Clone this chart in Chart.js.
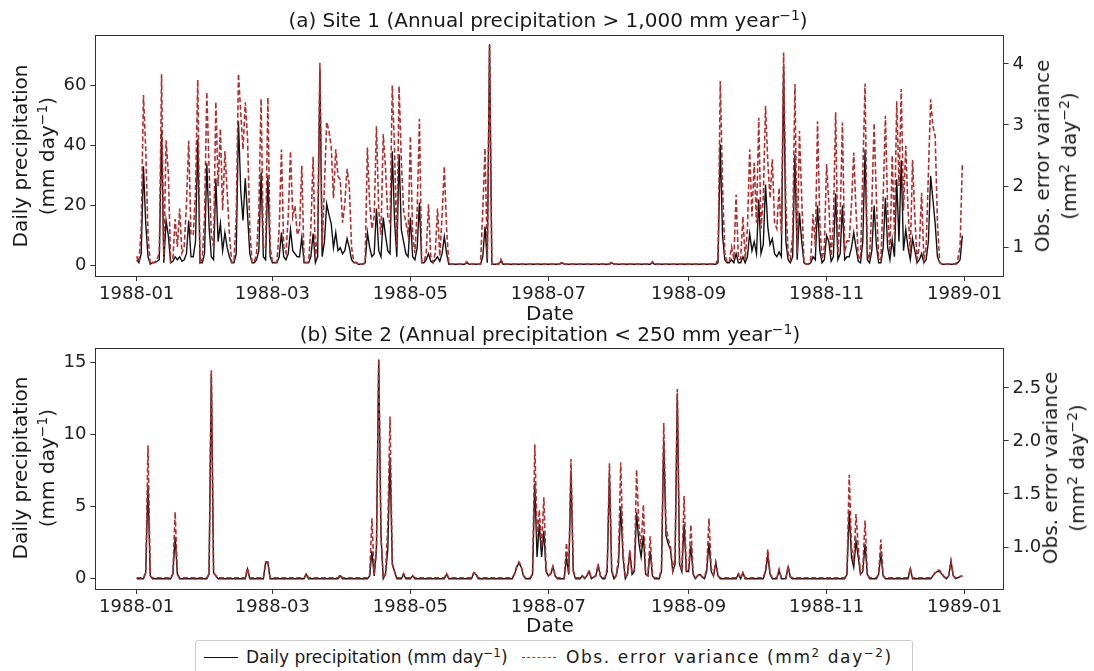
<!DOCTYPE html>
<html><head><meta charset="utf-8">
<script src="https://cdn.jsdelivr.net/npm/chart.js@4.4.0/dist/chart.umd.min.js"></script>
<style>
body{margin:0;background:#fff;width:1094px;height:671px;overflow:hidden;position:relative;font-family:"DejaVu Sans",sans-serif;color:#1a1a1a}
canvas{position:absolute;left:0}
.t{position:absolute;white-space:nowrap;transform:translate(-50%,-50%);font-size:20px;line-height:27px;text-align:center}
.r{transform:translate(-50%,-50%) rotate(-90deg)}
sup{font-size:0.7em;line-height:0;vertical-align:0.5em}
#leg{position:absolute;left:195px;top:640px;width:716px;height:40px;border:1px solid #ccc;border-radius:3px;font-size:17px}
.li{position:absolute;top:6px;white-space:nowrap}
.ln{position:absolute;top:16px;width:34px;height:0}
</style></head>
<body>
<canvas id="ca" width="1094" height="330" style="top:0"></canvas>
<canvas id="cb" width="1094" height="300" style="top:330px"></canvas>

<div class="t" style="left:548px;top:20px">(a) Site 1 (Annual precipitation &gt; 1,000 mm year<sup>−1</sup>)</div>
<div class="t" style="left:550px;top:313px">Date</div>
<div class="t" style="left:550px;top:334px">(b) Site 2 (Annual precipitation &lt; 250 mm year<sup>−1</sup>)</div>
<div class="t" style="left:550px;top:625px">Date</div>

<div class="t r" style="left:34px;top:156px">Daily precipitation<br>(mm day<sup>−1</sup>)</div>
<div class="t r" style="left:1056px;top:156px">Obs. error variance<br>(mm<sup>2</sup> day<sup>−2</sup>)</div>
<div class="t r" style="left:34px;top:468px">Daily precipitation<br>(mm day<sup>−1</sup>)</div>
<div class="t r" style="left:1064px;top:468px">Obs. error variance<br>(mm<sup>2</sup> day<sup>−2</sup>)</div>

<div id="leg">
  <div class="ln" style="left:8px;border-top:1.5px solid #111"></div>
  <div class="li" style="left:50px">Daily precipitation (mm day<sup>−1</sup>)</div>
  <div class="ln" style="left:326px;border-top:1.6px dashed #b03030"></div>
  <div class="li" style="left:370px;letter-spacing:1.6px">Obs. error variance (mm<sup>2</sup> day<sup>−2</sup>)</div>
</div>

<script>
// ---- x axis (day of year 1988) ----
const tickDays = [0, 60, 121, 182, 244, 305, 366];
const tickLabels = ['1988-01', '1988-03', '1988-05', '1988-07', '1988-09', '1988-11', '1989-01'];

// ---- (a) Site 1 ----
const daysA = [0,1,2,3,4,5,6,7,8,9,10,11,12,13,14,15,16,17,18,19,20,21,22,23,24,25,26,27,28,29,30,31,32,33,34,35,36,37,38,39,40,41,42,43,44,45,46,47,48,49,50,51,52,53,54,55,56,57,58,59,60,61,62,63,64,65,66,67,68,69,70,71,72,73,74,75,76,77,78,79,80,81,82,83,84,85,86,87,88,89,90,91,92,93,94,95,96,97,98,99,100,101,102,103,104,105,106,107,108,109,110,111,112,113,114,115,116,117,118,119,120,121,122,123,124,125,126,127,128,129,130,131,132,133,134,135,136,137,138,145,146,147,152,153,154,155,156,157,160,161,162,187,188,189,209,210,211,227,228,229,256,257,258,259,260,261,262,263,264,265,266,267,268,269,270,271,272,273,274,275,276,277,278,279,280,281,282,283,284,285,286,287,288,289,290,291,292,293,294,295,296,297,298,299,300,301,302,303,304,305,306,307,308,309,310,311,312,313,314,315,316,317,318,319,320,321,322,323,324,325,326,327,328,329,330,331,332,333,334,335,336,337,338,339,340,341,342,343,344,345,346,347,348,349,350,351,352,353,354,355,356,362,363,364,365];
const precipA = [2,1,4,33,14,3,0.5,1,1,1.5,2,45,1,15,10,1,1.5,3,2,3,1.5,2,4,15,3,3,8,42,1,1,4,34,13,3,2,29,8,14,5,11,6,3,1,1,4,48,25,15,29,17,4,1,1,2,5,31,3,2,30,3,1,1,1,3,11,3,2,4,12,5,4,3,3,9.4,1,1,1,3,10.7,1,3,65,3,8,20.5,17,14,6,11,5,6,4,5,9,6,2,1,1,0.5,0.5,0.5,1,11,6,3,4,19,5,3,16,10,5,4,38,15,3,37,12,8,4,3,16,3,2,6,21,1,1,2,4,1.5,1,2,3,1.5,4,9.7,4,0.5,0.5,1,0.5,0.5,3,13,1,73.5,0.5,0.5,1.5,0.5,0.5,1,0.5,0.5,1,0.5,0.5,1,0.5,0.5,1,40.3,10,2,1,1,2,1,4,1,1,3,1,3,10.7,5,8,4,22,4,7,27,13,7,9,4,3,4.6,3,66,8,2,1,3,37,2,17.6,8,1,0.5,0.5,1,3,2,20,5,1,2,10,8,1.5,3,24,2,4,20,2,3,3,6,11,6,1.5,1,8,38.6,2,1,5,20,7,1,1,6,22.6,6,2,8.7,3,28.7,8,35,5,12,6,2,9,5,1,2,4,1,2,8,29.8,22,14,3,1,0.5,0.5,1,2,10];
const varianceA = [0.85,0.75,1.3,3.49,2.6,1.2,0.72,0.75,0.75,0.8,0.9,3.83,0.8,2.75,2.2,0.75,0.8,1.46,1.0,1.63,0.9,1.0,1.7,2.74,1.2,1.2,1.9,3.74,0.75,0.8,1.5,3.54,2.3,1.2,1.0,3.38,2.0,2.94,1.6,2.57,1.9,1.2,0.75,0.75,1.5,3.84,3.2,2.6,3.37,2.8,1.3,0.75,0.75,0.9,1.6,3.43,1.0,1.0,3.45,1.0,0.75,0.75,0.75,1.3,2.6,1.0,0.9,1.5,2.57,1.5,1.67,1.2,1.3,2.33,0.75,0.75,0.75,1.3,2.48,0.8,1.2,4.02,1.0,2.0,3.05,2.9,2.65,1.8,2.6,2.16,2.1,1.4,1.7,2.28,2.0,1.0,0.75,0.75,0.72,0.72,0.72,0.75,2.63,1.7,1.3,1.5,2.98,1.6,1.2,2.85,2.3,1.5,1.4,3.65,2.6,1.0,3.64,2.4,1.6,1.4,1.2,2.82,1.2,0.9,1.6,3.1,0.75,0.75,0.9,1.7,0.85,0.75,0.9,1.63,0.85,1.5,2.32,1.3,0.72,0.72,0.76,0.72,0.72,1.6,2.62,0.8,4.31,0.72,0.72,0.8,0.72,0.72,0.76,0.72,0.72,0.76,0.72,0.72,0.76,0.72,0.72,0.8,3.72,2.0,0.9,0.75,0.75,1.0,0.8,1.86,0.8,0.8,1.5,0.8,1.3,2.6,1.5,2.38,1.4,3.12,1.3,1.8,3.31,2.4,1.8,2.44,1.4,1.3,1.97,1.2,4.19,1.7,0.9,0.8,1.2,3.67,0.9,2.9,1.8,0.75,0.72,0.72,0.8,1.54,1.0,3.06,1.4,0.8,1.0,2.36,1.7,0.85,1.4,3.21,0.9,1.5,3.04,0.9,1.1,1.1,1.7,2.55,1.6,0.85,0.8,2.2,3.68,0.9,0.8,1.7,3.03,1.8,0.8,0.8,1.8,3.15,1.6,0.9,2.5,1.2,3.39,2.0,3.59,1.6,2.66,1.6,0.9,2.43,1.5,0.8,1.0,1.89,0.8,1.0,2.2,3.42,2.98,2.82,1.4,0.75,0.72,0.72,0.8,1.0,2.36];

// ---- (b) Site 2 ----
const daysB = [0,3,4,5,6,7,15,16,17,18,19,31,32,33,34,35,36,48,49,50,56,57,58,59,74,75,76,89,90,91,102,103,104,105,106,107,108,109,110,111,112,113,114,115,117,118,119,121,122,123,136,137,138,148,149,150,151,166,167,168,169,170,171,172,174,175,176,177,178,179,180,181,182,183,184,185,186,189,190,191,192,193,194,196,197,198,199,200,201,203,204,205,206,207,208,209,210,211,212,213,214,215,216,217,218,219,220,221,222,223,224,225,226,227,228,229,231,232,233,234,235,236,237,238,239,240,241,242,243,244,245,246,247,248,249,250,251,252,253,254,255,256,257,258,265,266,267,268,269,277,278,279,280,281,283,284,285,287,288,289,290,313,314,315,316,317,318,319,320,321,322,323,324,327,328,329,330,331,341,342,343,351,352,353,354,355,356,357,358,359,360,361,362,365];
const precipB = [0,0,0.4,6.5,0.2,0,0,0.3,2.9,0.3,0,0,0.3,14.2,0.4,0.2,0,0,0.67,0,0,1.1,1.1,0,0,0.3,0,0,0.2,0,0,0.2,1.9,0.2,2,15.2,3,0,0.3,2,8.4,1,0.5,0,0,0.3,0,0,0.2,0,0,0.3,0,0,0.4,0.3,0,0,0.3,0.8,1.1,0.8,0.2,0,0,0.3,6.6,1.5,3.8,1.5,3.3,0.5,0.2,0.3,0.8,0.2,0,0,1.5,0.3,7.5,0.5,0,0,0.2,0,0.2,0.5,0,0.2,0.9,0.2,0,0,0.5,7.3,0.5,0,0.2,1,5,1.5,0,0.3,1.9,0.3,0.5,4.6,2.5,1.5,3,0.3,0.2,1.9,0.2,0,0,0.5,9.6,3,2.4,2,0.5,1,12.8,1,0.5,3.8,0.5,0.5,2.3,0.3,0,0.2,0.3,0.1,0,0.5,2.5,0.5,0.2,1.1,0.2,0,0,0.3,0,0.4,0,0,0.5,1.6,0.3,0,0,0.6,0,0,0.8,0.1,0,0,0.3,4.7,1.5,0.8,2.6,1.5,0.3,0.5,2.4,0.3,0,0,0.3,1.7,0.2,0,0,0.7,0,0,0.2,0.4,0.5,0.5,0.3,0.1,0,0.2,1.2,0.2,0,0.2];
const varianceB = [0.71,0.71,0.76,1.96,0.73,0.71,0.71,0.75,1.33,0.75,0.71,0.71,0.75,2.67,0.76,0.73,0.71,0.71,0.8,0.71,0.71,0.86,0.86,0.71,0.71,0.75,0.71,0.71,0.74,0.71,0.71,0.74,1.27,0.74,1.0,2.77,1.1,0.71,0.75,1.2,2.23,0.85,0.77,0.71,0.71,0.75,0.71,0.71,0.73,0.71,0.71,0.75,0.71,0.71,0.76,0.75,0.71,0.71,0.75,0.82,0.86,0.82,0.73,0.71,0.71,0.75,1.97,1.1,1.35,1.0,1.47,0.78,0.73,0.75,0.82,0.73,0.71,0.71,1.04,0.75,1.83,0.78,0.71,0.71,0.73,0.71,0.73,0.78,0.71,0.73,0.84,0.73,0.71,0.71,0.8,1.79,0.78,0.71,0.73,0.9,1.8,0.95,0.71,0.75,0.97,0.75,0.78,1.73,1.2,1.0,1.4,0.75,0.73,1.1,0.73,0.71,0.71,0.8,2.17,1.2,1.07,1.0,0.78,0.9,2.49,0.85,0.78,1.48,0.78,0.78,1.21,0.75,0.71,0.73,0.75,0.72,0.71,0.8,1.27,0.8,0.73,0.86,0.73,0.71,0.71,0.75,0.71,0.76,0.71,0.71,0.78,0.98,0.75,0.71,0.71,0.79,0.71,0.71,0.82,0.72,0.71,0.71,0.75,1.68,1.0,0.85,1.31,1.0,0.75,0.8,1.25,0.75,0.71,0.71,0.75,1.07,0.73,0.71,0.71,0.8,0.71,0.71,0.73,0.76,0.78,0.78,0.75,0.72,0.71,0.73,0.87,0.73,0.71,0.73];

// ---- axis ticks ----
const precipTicksA = [0, 20, 40, 60];
const varianceTicksA = [1, 2, 3, 4];
const precipTicksB = [0, 5, 10, 15];
const varianceTicksB = [1.0, 1.5, 2.0, 2.5];

const AX = '#333';
const tickFont = {family: 'DejaVu Sans', size: 18};

const boxPlugin = {
  id: 'box',
  afterDraw(chart) {
    const a = chart.chartArea, c = chart.ctx;
    c.save(); c.strokeStyle = AX; c.lineWidth = 1;
    c.strokeRect(Math.round(a.left) + 0.5, Math.round(a.top) + 0.5, Math.round(a.right - a.left), Math.round(a.bottom - a.top));
    c.restore();
  }
};

function yScale(pos, min, max, ticks, fmt, width) {
  return {
    type: 'linear', position: pos, min: min, max: max,
    afterBuildTicks: s => { s.ticks = ticks.map(v => ({value: v})); },
    ticks: {autoSkip: false, font: tickFont, color: '#222', padding: 4, callback: v => fmt(v)},
    grid: {drawOnChartArea: false, drawTicks: true, tickLength: 5, color: AX},
    border: {display: false},
    afterFit: s => { s.width = width; }
  };
}

function panel(id, days, p, v, pr, vr, pt, vt, vfmt, padTop, xH) {
  new Chart(document.getElementById(id), {
    type: 'line',
    data: {datasets: [
      {label: 'Daily precipitation', data: days.map((d, i) => ({x: d, y: p[i]})), yAxisID: 'y',
       borderColor: '#111', borderWidth: 1.4, pointRadius: 0, tension: 0, fill: false, order: 2},
      {label: 'Obs. error variance', data: days.map((d, i) => ({x: d, y: v[i]})), yAxisID: 'y2',
       borderColor: '#b03030', borderWidth: 1.6, borderDash: [5, 2.5], pointRadius: 0, tension: 0, fill: false, order: 1}
    ]},
    options: {
      responsive: false, animation: false, devicePixelRatio: 1,
      layout: {padding: {top: padTop, left: 0, right: 0, bottom: 0}},
      plugins: {legend: {display: false}, tooltip: {enabled: false}, title: {display: false}},
      scales: {
        x: {
          type: 'linear', position: 'bottom', min: -18.25, max: 383.25,
          afterBuildTicks: s => { s.ticks = tickDays.map(d => ({value: d})); },
          ticks: {autoSkip: false, maxRotation: 0, font: tickFont, color: '#222', padding: 3,
                  callback: (val, i) => tickLabels[i]},
          grid: {drawOnChartArea: false, drawTicks: true, tickLength: 5, color: AX},
          border: {display: false},
          afterFit: s => { s.height = xH; }
        },
        y: yScale('left', pr[0], pr[1], pt, x => String(x), 95.4),
        y2: yScale('right', vr[0], vr[1], vt, vfmt, 90.4)
      }
    },
    plugins: [boxPlugin]
  });
}

panel('ca', daysA, precipA, varianceA, [-3.4, 76.6], [0.525, 4.475], precipTicksA, varianceTicksA, x => String(x), 35, 54);
panel('cb', daysB, precipB, varianceB, [-0.714, 16.0], [0.604, 2.877], precipTicksB, varianceTicksB, x => x.toFixed(1), 18, 41);
</script>
</body></html>
